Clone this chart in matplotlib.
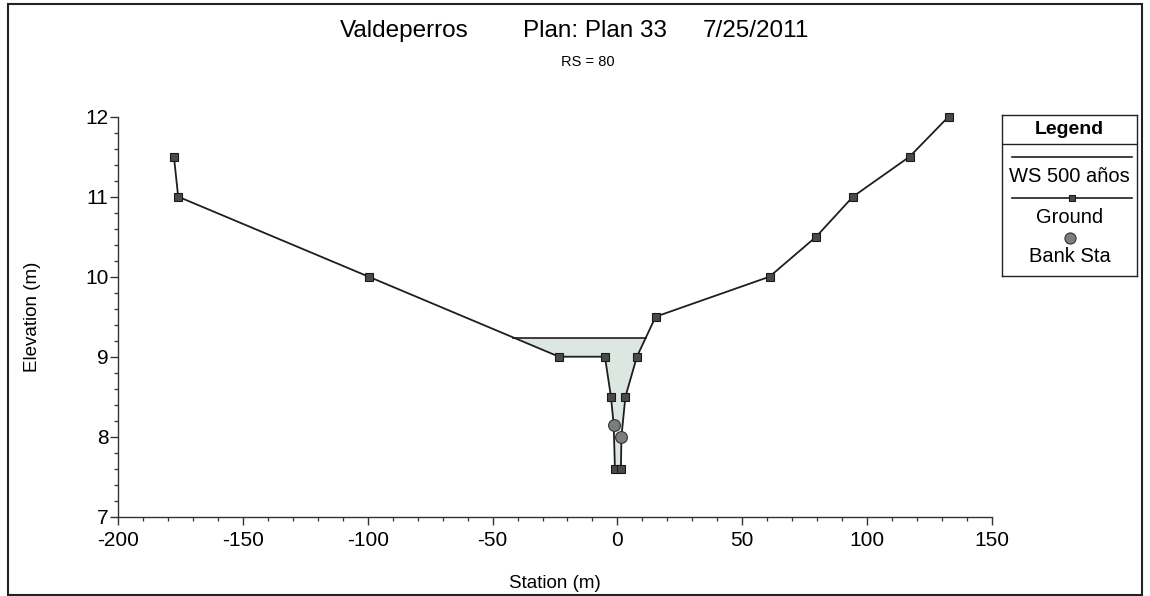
"""
HEC-RAS style cross section: Valdeperros, RS = 80.
"""

import numpy as np
import matplotlib.pyplot as plt
from matplotlib.patches import Rectangle
from matplotlib.ticker import MultipleLocator

plt.rcParams["font.family"] = ["Liberation Sans", "DejaVu Sans"]
plt.rcParams["axes.unicode_minus"] = False

# ground profile (station m, elevation m)
ground_sta = [-177.6, -175.9, -99.6, -23.4, -5.0, -2.6, -1.5, -1.0, 1.4, 1.6, 3.2, 7.8, 15.3, 60.9, 79.6, 94.3, 117.0, 132.6]
ground_elev = [11.5, 11.0, 10.0, 9.0, 9.0, 8.5, 8.15, 7.6, 7.6, 8.0, 8.5, 9.0, 9.5, 10.0, 10.5, 11.0, 11.5, 12.0]
# marker points drawn as squares (bank stations get circles instead)
square_idx = [0, 1, 2, 3, 4, 5, 7, 8, 10, 11, 12, 13, 14, 15, 16, 17]
bank_sta = [-1.5, 1.6]
bank_elev = [8.15, 8.0]
ws_elev = 9.24

LINE = "#1e1e1e"
FILL = "#dde7e2"

fig = plt.figure(figsize=(11.5, 5.96), dpi=100)
ax = fig.add_axes([118 / 1150, 79.3 / 596, 874 / 1150, 400 / 596])

gs = np.array(ground_sta)
ge = np.array(ground_elev)

# water surface: fill between ground and WS where ground is below WS
fine = np.linspace(gs.min(), gs.max(), 4000)
fine = np.union1d(fine, gs)
fine_e = np.interp(fine, gs, ge)
wet = fine_e <= ws_elev
ax.fill_between(fine, fine_e, ws_elev, where=wet, color=FILL, lw=0, zorder=1)
wet_x = fine[wet]
ax.plot([wet_x.min(), wet_x.max()], [ws_elev, ws_elev], color=LINE, lw=1.2, zorder=2)

ax.plot(gs, ge, color=LINE, lw=1.3, zorder=3, clip_on=False)
ax.plot(gs[square_idx], ge[square_idx], ls="none", marker="s", ms=6,
        mfc="#4a4a4a", mec="#1a1a1a", mew=0.8, zorder=4, clip_on=False)
ax.plot(bank_sta, bank_elev, ls="none", marker="o", ms=8.5,
        mfc="#7d7d7d", mec="#333333", mew=0.8, zorder=5)

ax.set_xlim(-200, 150)
ax.set_ylim(7, 12)
ax.xaxis.set_major_locator(MultipleLocator(50))
ax.xaxis.set_minor_locator(MultipleLocator(10))
ax.yaxis.set_major_locator(MultipleLocator(1))
ax.yaxis.set_minor_locator(MultipleLocator(0.2))
for s in ["top", "right"]:
    ax.spines[s].set_visible(False)
for s in ["left", "bottom"]:
    ax.spines[s].set_color("#333333")
    ax.spines[s].set_linewidth(1.0)
ax.tick_params(which="major", direction="out", length=5.5, width=1.0, color="#333333",
               labelsize=15)
ax.tick_params(which="minor", direction="out", length=3, width=0.9, color="#333333")
ax.tick_params(axis="x", which="major", pad=5)
ax.tick_params(axis="y", which="major", pad=1.5)
ax.set_xlabel("Station (m)", fontsize=13.5)
ax.set_ylabel("Elevation (m)", fontsize=13.5)
ax.xaxis.set_label_coords(0.5, -0.146)
ax.yaxis.set_label_coords(-0.088, 0.5)

# titles
fig.text(340 / 1150, 1 - 37 / 596, "Valdeperros", fontsize=17.5, ha="left", va="baseline")
fig.text(523 / 1150, 1 - 37 / 596, "Plan: Plan 33", fontsize=17.5, ha="left", va="baseline")
fig.text(703 / 1150, 1 - 37 / 596, "7/25/2011", fontsize=17.5, ha="left", va="baseline")
fig.text(588 / 1150, 1 - 62 / 596, "RS = 80", fontsize=10.5, ha="center", va="center")

# legend box
lg = fig.add_axes([1002 / 1150, 1 - 276 / 596, 135 / 1150, 161 / 596])
lg.set_xlim(0, 1)
lg.set_ylim(0, 1)
lg.set_xticks([])
lg.set_yticks([])
for s in lg.spines.values():
    s.set_color("#222222")
    s.set_linewidth(1.0)
lg.text(0.5, 0.91, "Legend", fontsize=14, fontweight="bold", ha="center", va="center")
lg.axhline(0.818, color="#222222", lw=1.0)
lg.plot([0.074, 0.963], [0.739, 0.739], color=LINE, lw=1.2)
lg.text(0.5, 0.621, "WS 500 años", fontsize=14.5, ha="center", va="center")
lg.plot([0.074, 0.963], [0.486, 0.486], color=LINE, lw=1.2)
lg.plot([0.52], [0.486], marker="s", ms=5, mfc="#4a4a4a", mec="#1a1a1a", mew=0.8)
lg.text(0.5, 0.366, "Ground", fontsize=14.5, ha="center", va="center")
lg.plot([0.5], [0.238], marker="o", ms=8, mfc="#7d7d7d", mec="#333333", mew=0.8)
lg.text(0.5, 0.124, "Bank Sta", fontsize=14.5, ha="center", va="center")

# outer frame
fig.patches.append(Rectangle((8 / 1150, 1 / 596), 1134 / 1150, 591 / 596,
                             transform=fig.transFigure, fill=False,
                             edgecolor="#222222", lw=1.5))

fig.savefig("out.png", dpi=100)
